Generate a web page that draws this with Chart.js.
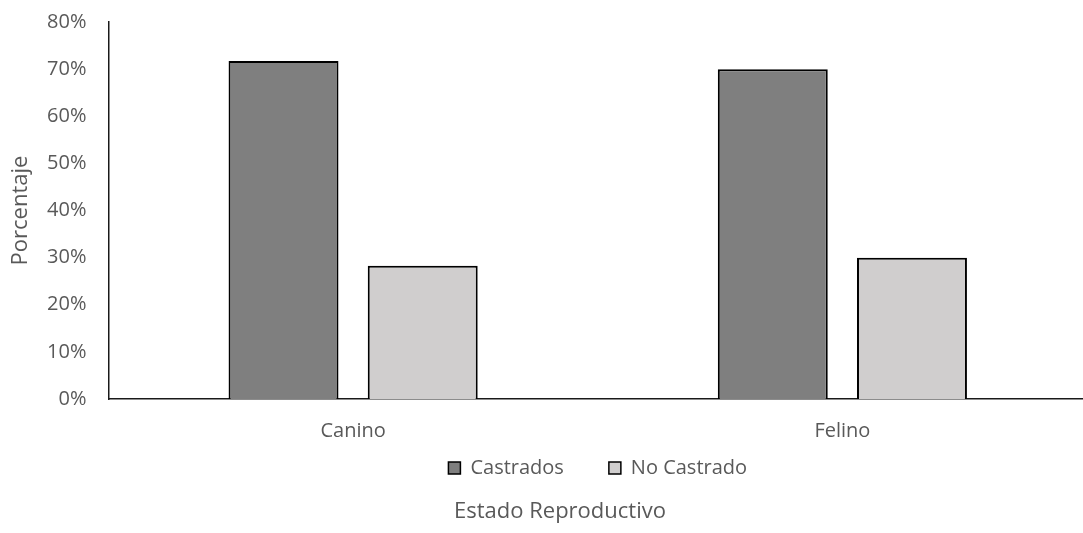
<!DOCTYPE html>
<html lang="es">
<head>
<meta charset="utf-8">
<title>Estado Reproductivo</title>
<script src="https://cdn.jsdelivr.net/npm/chart.js@4.4.1/dist/chart.umd.min.js"></script>
<style>
  html, body { margin: 0; padding: 0; background: #ffffff; overflow: hidden; }
  #wrap { width: 1087px; height: 533px; position: relative; }
</style>
</head>
<body>
<div id="wrap"><canvas id="chart"></canvas></div>
<script>
// Porcentaje por especie según estado reproductivo
const categories = ['Canino', 'Felino'];
const castrados = [71.7, 70.0];
const noCastrado = [28.3, 30.0];
const yTicks = [0, 10, 20, 30, 40, 50, 60, 70, 80];
const yTickLabels = yTicks.map(v => v + '%');

const textColor = '#595959';
const fontFamily = '"Open Sans", "DejaVu Sans", sans-serif';

// Axis title under the legend, and the legend pulled up closer to the category labels
const bottomTitle = {
  id: 'bottomTitle',
  afterLayout(chart) {
    const lg = chart.legend;
    if (lg) { lg.top -= 50; lg.bottom -= 50; }
  },
  afterDraw(chart) {
    const ctx = chart.ctx;
    ctx.save();
    ctx.font = '22px ' + fontFamily;
    ctx.fillStyle = textColor;
    ctx.textAlign = 'center';
    ctx.textBaseline = 'middle';
    ctx.fillText('Estado Reproductivo', 560, 512);
    ctx.restore();
  }
};

new Chart(document.getElementById('chart'), {
  type: 'bar',
  data: {
    labels: categories,
    datasets: [
      {
        label: 'Castrados',
        data: castrados,
        backgroundColor: '#7f7f7f',
        borderColor: '#000000',
        borderWidth: 2,
        categoryPercentage: 0.569,
        barPercentage: 0.79
      },
      {
        label: 'No Castrado',
        data: noCastrado,
        backgroundColor: '#d0cece',
        borderColor: '#000000',
        borderWidth: 2,
        categoryPercentage: 0.569,
        barPercentage: 0.79
      }
    ]
  },
  options: {
    responsive: true,
    maintainAspectRatio: false,
    animation: false,
    layout: { padding: { top: 22, right: 0, bottom: -5, left: 0 } },
    plugins: {
      tooltip: { enabled: false },
      legend: {
        position: 'bottom',
        fullSize: false,
        labels: {
          color: textColor,
          font: { family: fontFamily, size: 20 },
          boxWidth: 12,
          boxHeight: 12,
          padding: 45,
          generateLabels(chart) {
            return chart.data.datasets.map((ds, i) => ({
              text: ds.label,
              fillStyle: ds.backgroundColor,
              strokeStyle: '#000000',
              lineWidth: 1.5,
              fontColor: textColor,
              datasetIndex: i,
              hidden: false
            }));
          }
        }
      }
    },
    scales: {
      x: {
        grid: { display: false, drawTicks: false },
        border: { display: true, color: '#1a1a1a', width: 1.5 },
        ticks: {
          color: textColor,
          font: { family: fontFamily, size: 20 },
          padding: 20
        }
      },
      y: {
        min: 0,
        max: 80,
        grid: { display: false, drawTicks: false },
        border: { display: true, color: '#1a1a1a', width: 1.5 },
        afterBuildTicks(scale) {
          scale.ticks = yTicks.map(v => ({ value: v }));
        },
        ticks: {
          color: textColor,
          font: { family: fontFamily, size: 20 },
          padding: 22,
          callback(value) {
            const i = yTicks.indexOf(value);
            return i >= 0 ? yTickLabels[i] : '';
          }
        },
        title: {
          display: true,
          text: 'Porcentaje',
          color: textColor,
          font: { family: fontFamily, size: 22 },
          padding: { top: 8, bottom: 0 }
        },
        afterFit(scale) {
          scale.width = 108.5;
          scale.paddingTop = 12;
          scale.paddingBottom = 12;
        }
      }
    }
  },
  plugins: [bottomTitle]
});
</script>
</body>
</html>
